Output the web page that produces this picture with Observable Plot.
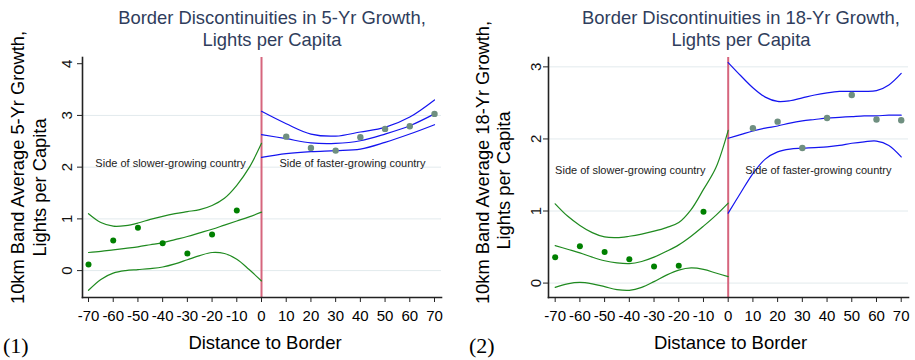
<!DOCTYPE html>
<html><head><meta charset="utf-8">
<script src="https://cdn.jsdelivr.net/npm/d3@7"></script>
<script src="https://cdn.jsdelivr.net/npm/@observablehq/plot@0.6"></script>
<style>
body{margin:0;background:#fff;}
#wrap{position:relative;width:915px;height:360px;overflow:hidden;font-family:"Liberation Sans",Arial,sans-serif;background:#fff;}
.panel{position:absolute;top:0;}
.title{position:absolute;top:7px;color:#2f3d5c;font-size:18.4px;line-height:22px;text-align:center;white-space:nowrap;transform:translateX(-50%);}
.num{position:absolute;top:333px;font-family:"Liberation Serif","DejaVu Serif",serif;font-size:22px;color:#000;}
</style>
</head><body>
<div id="wrap">
  <div class="panel" id="p1" style="left:0px"></div>
  <div class="panel" id="p2" style="left:457px"></div>
  <div class="title" id="t1" style="left:272px"></div>
  <div class="title" id="t2" style="left:741px"></div>
  <div class="num" style="left:3px">(1)</div>
  <div class="num" style="left:469px">(2)</div>
</div>
<script>
// ---------- text ----------
const titles1 = ["Border Discontinuities in 5-Yr Growth,", "Lights per Capita"];
const titles2 = ["Border Discontinuities in 18-Yr Growth,", "Lights per Capita"];
const yTitle1 = ["10km Band Average 5-Yr Growth,", "Lights per Capita"];
const yTitle2 = ["10km Band Average 18-Yr Growth,", "Lights per Capita"];
const xTitle = "Distance to Border";
const sideLabels = ["Side of slower-growing country", "Side of faster-growing country"];

// ---------- ticks ----------
const xTicks = [-70,-60,-50,-40,-30,-20,-10,0,10,20,30,40,50,60,70];
const yTicks1 = [0,1,2,3,4];
const grid1 = [0,1,2,3];
const yTicks2 = [0,1,2,3];
const grid2 = [0,1,2,3];

// ---------- binned means (dots) ----------
const ptXSlow = [-70,-60,-50,-40,-30,-20,-10];
const ptXFast = [10,20,30,40,50,60,70];
const c1SlowPts = [0.12,0.58,0.83,0.53,0.33,0.70,1.16];
const c1FastPts = [2.59,2.37,2.32,2.58,2.74,2.79,3.03];
const c2SlowPts = [0.36,0.51,0.43,0.33,0.23,0.24,0.99];
const c2FastPts = [2.15,2.24,1.875,2.29,2.61,2.27,2.26];

// ---------- fitted curves and confidence bands ----------
const fitXSlow = [-70,-65,-60,-55,-50,-45,-40,-35,-30,-25,-20,-15,-10,-5,0];
const fitXFast10 = [0,10,20,30,40,50,60,70];
const fitXFast5 = [0,5,10,15,20,25,30,35,40,45,50,55,60,65,70];

const c1SlowMid = [0.35,0.37,0.40,0.43,0.46,0.50,0.54,0.60,0.66,0.73,0.80,0.88,0.96,1.04,1.13];
const c1SlowHi  = [1.10,0.93,0.86,0.87,0.92,0.99,1.05,1.10,1.14,1.18,1.26,1.40,1.65,1.99,2.46];
const c1SlowLo  = [-0.38,-0.17,-0.05,0.00,0.02,0.04,0.07,0.13,0.21,0.29,0.35,0.33,0.22,0.02,-0.20];
const c1FastMid = [2.63,2.55,2.47,2.46,2.51,2.64,2.80,3.03];
const c1FastHi  = [3.08,2.84,2.64,2.60,2.68,2.77,2.97,3.30];
const c1FastLo  = [2.19,2.26,2.30,2.32,2.35,2.48,2.64,2.82];

const c2SlowMid = [0.52,0.47,0.42,0.36,0.31,0.28,0.27,0.30,0.36,0.44,0.53,0.65,0.79,0.94,1.11];
const c2SlowHi  = [1.10,0.93,0.80,0.70,0.64,0.63,0.65,0.68,0.72,0.77,0.84,1.02,1.30,1.60,2.12];
const c2SlowLo  = [-0.06,-0.01,0.01,-0.01,-0.05,-0.09,-0.10,-0.06,0.02,0.11,0.18,0.21,0.19,0.14,0.09];
const c2FastMid = [2.01,2.06,2.11,2.15,2.18,2.22,2.25,2.27,2.29,2.30,2.31,2.32,2.32,2.33,2.33];
const c2FastHi  = [3.06,2.88,2.71,2.58,2.52,2.53,2.57,2.61,2.64,2.66,2.66,2.66,2.67,2.75,2.91];
const c2FastLo  = [0.97,1.25,1.52,1.72,1.82,1.86,1.87,1.88,1.89,1.91,1.94,1.96,1.97,1.91,1.75];

// annotation anchor points (data coords)
const c1SideX = [-36.8, 36.8], c1SideY = [2.07, 2.07];
const c2SideX = [-39.6, 36.5], c2SideY = [1.56, 1.56];

// ---------- colours ----------
const GREEN = "#1f8a1f", GREEN_PT = "#008000", BLUE = "#1414f0", GRAY_PT = "#6f8f80", RED = "#d6657d";

const zip = (xs, ys) => xs.map((x,i) => ({x, y: ys[i]}));

function panel(o) {
  const lineOpts = (stroke) => ({x:"x", y:"y", stroke, strokeWidth:1.2, curve:"catmull-rom"});
  return Plot.plot({
    width: o.width, height: 360,
    marginLeft: o.ml, marginRight: o.mr, marginTop: 57, marginBottom: 63,
    x: {domain: o.xDomain},
    y: {domain: o.yDomain},
    style: {fontFamily: "Liberation Sans, Arial, sans-serif", fontSize: "15px", background: "white", overflow: "visible"},
    marks: [
      Plot.ruleY(o.grid, {stroke: "#e2eaed", strokeWidth: 1}),
      Plot.ruleX([0], {stroke: RED, strokeWidth: 2}),
      Plot.line(zip(fitXSlow, o.slowHi), lineOpts(GREEN)),
      Plot.line(zip(fitXSlow, o.slowMid), lineOpts(GREEN)),
      Plot.line(zip(fitXSlow, o.slowLo), lineOpts(GREEN)),
      Plot.line(zip(o.fastX, o.fastHi), lineOpts(BLUE)),
      Plot.line(zip(o.fastX, o.fastMid), lineOpts(BLUE)),
      Plot.line(zip(o.fastX, o.fastLo), lineOpts(BLUE)),
      Plot.dot(zip(ptXSlow, o.slowPts), {x:"x", y:"y", r:3, fill: GREEN_PT, stroke: "none"}),
      Plot.dot(zip(ptXFast, o.fastPts), {x:"x", y:"y", r:3.2, fill: GRAY_PT, stroke: "none"}),
      Plot.text(sideLabels.map((t,i) => ({t, x: o.sideX[i], y: o.sideY[i]})), {x:"x", y:"y", text:"t", fontSize: 11, fill: "#222"}),
      Plot.frame({anchor: "left", stroke: "#222", strokeWidth: 1.6}),
      Plot.frame({anchor: "bottom", stroke: "#222", strokeWidth: 1.6}),
      Plot.axisX({ticks: xTicks, tickSize: 5, tickPadding: 7.5, fontSize: 15, label: null, tickFormat: d => String(d), stroke: "#222"}),
      Plot.axisY({ticks: o.yTicks, tickSize: 5, tickFormat: () => "", label: null, stroke: "#222"}),
      Plot.text(o.yTicks, {y: d => d, text: d => String(d), frameAnchor: "left", dx: o.ytickDx, rotate: -90, textAnchor: "middle", lineAnchor: "middle", fontSize: 15, fill: "#111"}),
      Plot.text([o.yTitle[0]], {frameAnchor: "left", dx: o.yt1Dx, dy: o.yt1Dy, rotate: -90, textAnchor: "middle", lineAnchor: "middle", fontSize: 18.3, fill: "#000"}),
      Plot.text([o.yTitle[1]], {frameAnchor: "left", dx: o.yt2Dx, dy: o.yt2Dy, rotate: -90, textAnchor: "middle", lineAnchor: "middle", fontSize: 18.3, fill: "#000"}),
      Plot.text([xTitle], {frameAnchor: "bottom", dy: 46, dx: o.xtDx, lineAnchor: "middle", fontSize: 18.5, fill: "#000"})
    ]
  });
}

document.getElementById("p1").appendChild(panel({
  width: 457, ml: 82, mr: 16, xDomain: [-72.43, 72.83], yDomain: [-0.52, 4.12],
  yTicks: yTicks1, grid: grid1,
  slowPts: c1SlowPts, fastPts: c1FastPts,
  slowMid: c1SlowMid, slowHi: c1SlowHi, slowLo: c1SlowLo,
  fastX: fitXFast10, fastMid: c1FastMid, fastHi: c1FastHi, fastLo: c1FastLo,
  sideX: c1SideX, sideY: c1SideY,
  ytickDx: -15, yTitle: yTitle1, yt1Dx: -64, yt2Dx: -42, yt1Dy: -10, yt2Dy: 10, xtDx: 3
}));
document.getElementById("p2").appendChild(panel({
  width: 458, ml: 91, mr: 7, xDomain: [-72.7, 72.95], yDomain: [-0.2, 3.13],
  yTicks: yTicks2, grid: grid2,
  slowPts: c2SlowPts, fastPts: c2FastPts,
  slowMid: c2SlowMid, slowHi: c2SlowHi, slowLo: c2SlowLo,
  fastX: fitXFast5, fastMid: c2FastMid, fastHi: c2FastHi, fastLo: c2FastLo,
  sideX: c2SideX, sideY: c2SideY,
  ytickDx: -12, yTitle: yTitle2, yt1Dx: -65, yt2Dx: -44, yt1Dy: -15, yt2Dy: 3, xtDx: 2
}));
document.getElementById("t1").innerHTML = titles1.join("<br>");
document.getElementById("t2").innerHTML = titles2.join("<br>");
</script>
</body></html>
